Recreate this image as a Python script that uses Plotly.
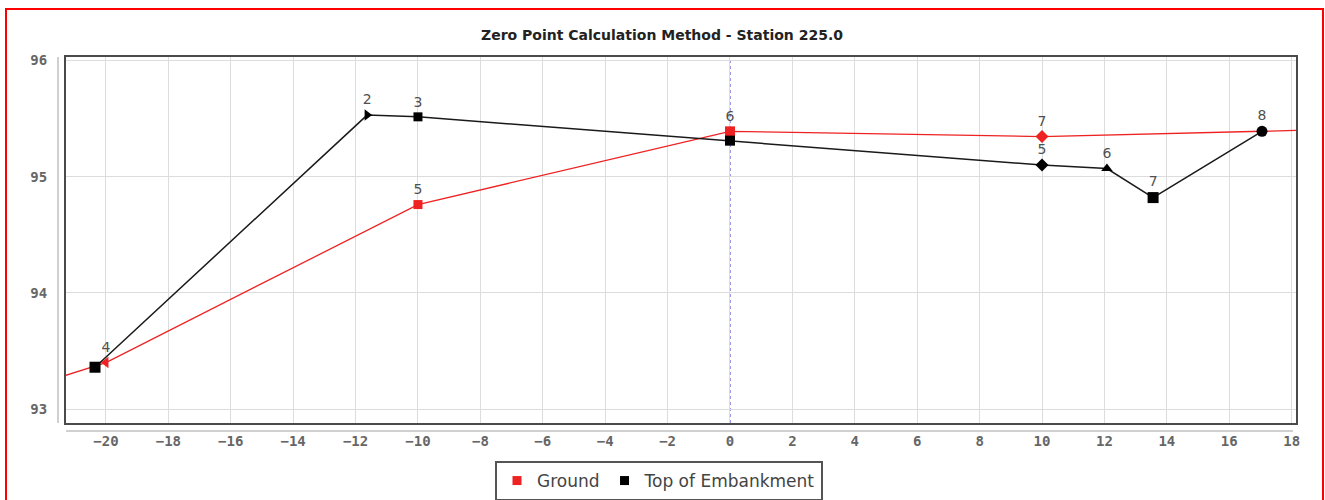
import plotly.graph_objects as go

# Ground profile (offset from centreline vs elevation)
ground_x = [-22.0, -20.0, -10.0, 0.0, 10.0, 20.0]
ground_y = [93.23, 93.40, 94.76, 95.39, 95.345, 95.41]
ground_labels = ["", "4", "5", "6", "7", ""]
ground_symbols = ["circle", "triangle-left", "square", "square", "diamond", "circle"]
ground_sizes = [0, 10, 9, 10, 10, 0]

# Top of embankment profile
embank_x = [-20.35, -11.63, -10.0, 0.0, 10.0, 12.08, 13.56, 17.05]
embank_y = [93.36, 95.53, 95.515, 95.31, 95.10, 95.07, 94.82, 95.39]
embank_labels = ["", "2", "3", "", "5", "6", "7", "8"]
embank_symbols = ["square", "triangle-right", "square", "square", "diamond",
                  "triangle-up", "square", "circle"]
embank_sizes = [11, 10, 9, 10, 10, 10, 11, 11]

x_ticks = list(range(-20, 19, 2))
y_ticks = [93, 94, 95, 96]

title_text = "Zero Point Calculation Method - Station 225.0"

W, H = 1325, 500
L, R, T, B = 66, 29, 57, 77
pw, ph = W - L - R, H - T - B


def px_x(p):
    return (p - L) / pw


def px_y(p):
    return (H - B - p) / ph


RED = "#ee2222"
BLACK = "#000000"
LABEL = "#505050"

fig = go.Figure()

fig.add_trace(go.Scatter(
    x=ground_x, y=ground_y, mode="lines+markers+text",
    line=dict(color=RED, width=1.3),
    marker=dict(color=RED, symbol=ground_symbols, size=ground_sizes,
                opacity=1, line=dict(width=0)),
    text=ground_labels, textposition="top center",
    textfont=dict(family="DejaVu Sans", size=14, color=LABEL),
    showlegend=False, cliponaxis=True,
))

fig.add_trace(go.Scatter(
    x=embank_x, y=embank_y, mode="lines+markers+text",
    line=dict(color="#1a1a1a", width=1.5),
    marker=dict(color=BLACK, symbol=embank_symbols, size=embank_sizes,
                opacity=1, line=dict(width=0)),
    text=embank_labels, textposition="top center",
    textfont=dict(family="DejaVu Sans", size=14, color=LABEL),
    showlegend=False, cliponaxis=True,
))

# legend entries (square swatches)
fig.add_trace(go.Scatter(x=[None], y=[None], mode="markers", name="Ground",
                         marker=dict(color=RED, symbol="square", size=9)))
fig.add_trace(go.Scatter(x=[None], y=[None], mode="markers", name="Top of Embankment",
                         marker=dict(color=BLACK, symbol="square", size=9)))

tickfont = dict(family="DejaVu Sans Mono", size=14, color="#666666", weight="bold")

fig.update_xaxes(
    range=[-21.28, 18.14], tickvals=x_ticks,
    ticktext=[("\u2212" + str(-v)) if v < 0 else str(v) for v in x_ticks],
    showgrid=True, gridcolor="#dcdcdc", gridwidth=1,
    showline=True, mirror=True, linecolor="#4a4a4a", linewidth=2,
    zeroline=False, ticks="", ticklabelstandoff=4, tickfont=tickfont,
)
fig.update_yaxes(
    range=[92.88, 96.03], tickvals=y_ticks,
    showgrid=True, gridcolor="#dcdcdc", gridwidth=1,
    showline=True, mirror=True, linecolor="#4a4a4a", linewidth=2,
    zeroline=False, ticks="", ticklabelstandoff=14, tickfont=tickfont,
)

shapes = [
    # centreline marker at offset 0
    dict(type="line", xref="x", yref="paper", x0=0, x1=0, y0=0, y1=1,
         line=dict(color="#3030cc", width=1, dash="dot"), layer="below"),
    # detached axis rules
    dict(type="line", xref="paper", yref="paper", x0=px_x(58), x1=px_x(58),
         y0=0, y1=1, line=dict(color="#c0c0c0", width=1.5)),
    dict(type="line", xref="paper", yref="paper", x0=0, x1=px_x(1293),
         y0=px_y(431), y1=px_y(431), line=dict(color="#c0c0c0", width=1.5)),
    # outer red frame
    dict(type="rect", xref="paper", yref="paper", x0=px_x(6), x1=px_x(1323),
         y0=px_y(510), y1=px_y(9), line=dict(color="#ff0000", width=2)),
]

fig.update_layout(
    width=W, height=H,
    margin=dict(l=L, r=R, t=T, b=B, autoexpand=False),
    paper_bgcolor="white", plot_bgcolor="white",
    title=dict(text=title_text, x=0.5 * (476 + 848) / W, xanchor="center",
               y=1 - 35 / H, yanchor="middle",
               font=dict(family="DejaVu Sans", size=14, color="#222222", weight="bold")),
    legend=dict(orientation="h", x=px_x(659), xanchor="center",
                y=px_y(461), yanchor="top",
                bordercolor="#555555", borderwidth=2, bgcolor="white",
                font=dict(family="DejaVu Sans", size=17, color="#444444"),
                itemwidth=30, tracegroupgap=0),
    shapes=shapes,
)

fig.write_html("out.html")
